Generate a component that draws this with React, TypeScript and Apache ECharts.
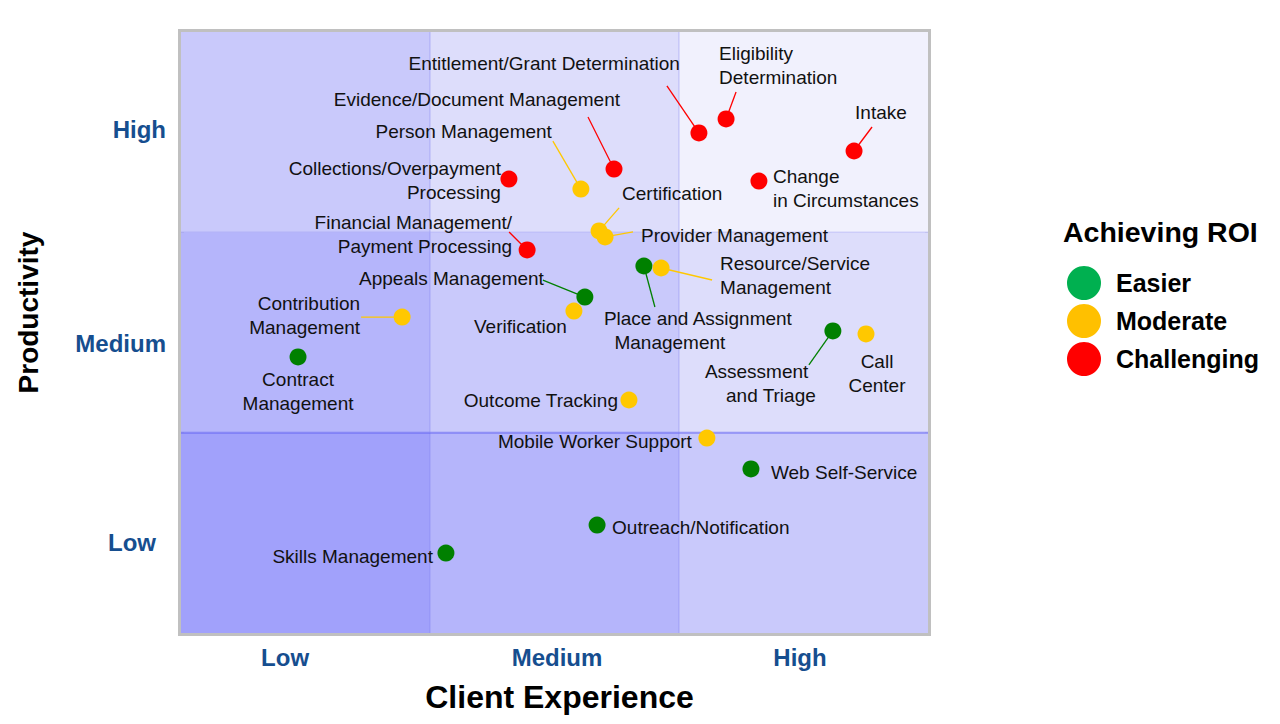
import React, { useEffect, useRef } from "react";
import * as echarts from "echarts";

// ---------- data ----------
const xTickLabels = ["Low", "Medium", "High"];
const yTickLabels = ["Low", "Medium", "High"];
const xTickPositions = [0.418, 1.51, 2.486];
const yTickPositions = [0.454, 1.443, 2.511];
const roiLevels = ["Easier", "Moderate", "Challenging"];

const challengingNames = [
  "Entitlement/Grant Determination",
  "Eligibility\nDetermination",
  "Intake",
  "Evidence/Document Management",
  "Change\nin Circumstances",
  "Collections/Overpayment\nProcessing",
  "Financial Management/\nPayment Processing",
];
const challengingX = [2.08, 2.189, 2.703, 1.739, 2.321, 1.317, 1.39];
const challengingY = [2.496, 2.566, 2.406, 2.316, 2.256, 2.266, 1.912];

const moderateNames = [
  "Person Management",
  "Certification",
  "Provider Management",
  "Resource/Service\nManagement",
  "Contribution\nManagement",
  "Verification",
  "Call\nCenter",
  "Outcome Tracking",
  "Mobile Worker Support",
];
const moderateX = [1.606, 1.679, 1.703, 1.928, 0.888, 1.578, 2.751, 1.799, 2.112];
const moderateY = [2.216, 2.007, 1.977, 1.822, 1.577, 1.607, 1.493, 1.163, 0.973];

const easierNames = [
  "Place and Assignment\n  Management",
  "Appeals Management",
  "Assessment\n    and Triage",
  "Contract\nManagement",
  "Web Self-Service",
  "Outreach/Notification",
  "Skills Management",
];
const easierX = [1.859, 1.622, 2.618, 0.47, 2.289, 1.671, 1.064];
const easierY = [1.832, 1.677, 1.508, 1.378, 0.819, 0.539, 0.399];

// background cells: [column, row]
const cellCols = [0, 1, 2, 0, 1, 2, 0, 1, 2];
const cellRows = [0, 0, 0, 1, 1, 1, 2, 2, 2];

// ---------- layout / style ----------
const FONT = "'Liberation Sans', Arial, Helvetica, sans-serif";
const cellColors = [
  ["#a1a1fb", "#b5b5fb", "#c9c9fb"],
  ["#b5b5fb", "#c9c9fb", "#ddddfb"],
  ["#c9c9fb", "#ddddfb", "#f1f1fd"],
];
const dotColors = { Easier: "#008000", Moderate: "#ffc800", Challenging: "#ff0000" };
const legendColors = { Easier: "#00b050", Moderate: "#ffc000", Challenging: "#ff0000" };
const yTickRightPad = [10, 0, 0];

type Lay = { dx: number; dy: number; align: string; line?: [number, number] };
const labelLayouts: Record<string, Lay> = {
  "Entitlement/Grant Determination": { dx: -19, dy: -69, align: "right", line: [-32, -47] },
  "Eligibility\nDetermination": { dx: -7, dy: -53, align: "left", line: [10, -27] },
  Intake: { dx: 1, dy: -38, align: "left", line: [18, -24] },
  "Evidence/Document Management": { dx: 6, dy: -70, align: "right", line: [-26, -52] },
  "Change\nin Circumstances": { dx: 14, dy: 7, align: "left" },
  "Collections/Overpayment\nProcessing": { dx: -8, dy: 1, align: "right" },
  "Financial Management/\nPayment Processing": { dx: -15, dy: -15, align: "right", line: [-18, -18] },
  "Person Management": { dx: -29, dy: -58, align: "right", line: [-28, -48] },
  Certification: { dx: 23, dy: -37, align: "left", line: [20, -23] },
  "Provider Management": { dx: 36, dy: -1, align: "left", line: [28, -5] },
  "Resource/Service\nManagement": { dx: 59, dy: 8, align: "left", line: [51, 12] },
  "Contribution\nManagement": { dx: -42, dy: -2, align: "right", line: [-41, 0] },
  Verification: { dx: -7, dy: 15, align: "right" },
  "Call\nCenter": { dx: 11, dy: 40, align: "center" },
  "Outcome Tracking": { dx: -11, dy: 0, align: "right" },
  "Mobile Worker Support": { dx: -15, dy: 3, align: "right" },
  "Place and Assignment\n  Management": { dx: -40, dy: 65, align: "left", line: [11, 41] },
  "Appeals Management": { dx: -41, dy: -19, align: "right", line: [-42, -17] },
  "Assessment\n    and Triage": { dx: -128, dy: 53, align: "left", line: [-24, 34] },
  "Contract\nManagement": { dx: 0, dy: 35, align: "center" },
  "Web Self-Service": { dx: 20, dy: 4, align: "left" },
  "Outreach/Notification": { dx: 15, dy: 2, align: "left" },
  "Skills Management": { dx: -13, dy: 3, align: "right" },
};

function buildPoints(names: string[], xs: number[], ys: number[]) {
  return names.map((n, i) => {
    const l = labelLayouts[n];
    return {
      name: n,
      value: [xs[i], ys[i]],
      label: { offset: [l.dx, l.dy], align: l.align },
    };
  });
}

export default function App() {
  const ref = useRef<HTMLDivElement>(null);
  useEffect(() => {
    if (!ref.current) return;
    const chart = echarts.init(ref.current, null, { renderer: "svg" });

    const groups = [
      { level: "Easier", names: easierNames, xs: easierX, ys: easierY },
      { level: "Moderate", names: moderateNames, xs: moderateX, ys: moderateY },
      { level: "Challenging", names: challengingNames, xs: challengingX, ys: challengingY },
    ];

    const leaderData: any[] = [];
    const leaderInfo: { end: [number, number]; color: string }[] = [];
    groups.forEach((g) => {
      g.names.forEach((n, i) => {
        const l = labelLayouts[n];
        if (l.line) {
          leaderData.push([g.xs[i], g.ys[i]]);
          leaderInfo.push({ end: l.line, color: (dotColors as any)[g.level] });
        }
      });
    });

    const findIdx = (positions: number[], v: number) =>
      positions.findIndex((p) => Math.abs(p - v) < 1e-6);

    const tickStyle = {
      color: "#164e8f",
      fontSize: 24,
      fontWeight: "bold",
      fontFamily: FONT,
    };

    const option: any = {
      animation: false,
      backgroundColor: "#ffffff",
      textStyle: { fontFamily: FONT },
      title: {
        text: "Achieving ROI",
        left: 1058,
        top: 212,
        textStyle: { fontSize: 28.5, fontWeight: "bold", color: "#000", fontFamily: FONT },
      },
      legend: {
        orient: "vertical",
        left: 1062,
        top: 261,
        itemWidth: 34,
        itemHeight: 34,
        itemGap: 4,
        icon: "circle",
        selectedMode: false,
        data: roiLevels.map((r) => ({ name: r, itemStyle: { color: (legendColors as any)[r] } })),
        textStyle: { fontSize: 25, fontWeight: "bold", color: "#000", fontFamily: FONT, padding: [0, 0, 0, 10] },
      },
      grid: {
        left: 181,
        right: 352,
        top: 32,
        bottom: 91,
        show: true,
        borderColor: "#c0c0c0",
        borderWidth: 6,
        backgroundColor: "transparent",
      },
      xAxis: {
        type: "value",
        min: 0,
        max: 3,
        interval: 1,
        axisLine: { show: false },
        axisTick: { show: false },
        splitLine: { show: false },
        axisLabel: {
          customValues: xTickPositions,
          formatter: (v: number) => {
            const i = findIdx(xTickPositions, v);
            return i >= 0 ? xTickLabels[i] : "";
          },
          ...tickStyle,
          margin: 12,
        },
        name: "Client Experience",
        nameLocation: "middle",
        nameGap: 48,
        nameTextStyle: {
          fontSize: 32,
          fontWeight: "bold",
          color: "#000",
          fontFamily: FONT,
          padding: [0, 0, 0, 10],
        },
      },
      yAxis: {
        type: "value",
        min: 0,
        max: 3,
        interval: 1,
        axisLine: { show: false },
        axisTick: { show: false },
        splitLine: { show: false },
        axisLabel: {
          customValues: yTickPositions,
          formatter: (v: number) => {
            const i = findIdx(yTickPositions, v);
            if (i < 0) return "";
            return "{t" + i + "|" + yTickLabels[i] + "}";
          },
          ...tickStyle,
          margin: 15,
          rich: {
            t0: { ...tickStyle, padding: [0, yTickRightPad[0], 0, 0] },
            t1: { ...tickStyle, padding: [0, yTickRightPad[1], 0, 0] },
            t2: { ...tickStyle, padding: [0, yTickRightPad[2], 0, 0] },
          },
        },
        name: "Productivity",
        nameLocation: "middle",
        nameGap: 139,
        nameRotate: 90,
        nameTextStyle: {
          fontSize: 28,
          fontWeight: "bold",
          color: "#000",
          fontFamily: FONT,
          padding: [0, 0, 0, 40],
        },
      },
      series: [
        {
          type: "custom",
          name: "cells",
          coordinateSystem: "cartesian2d",
          silent: true,
          z: 1,
          data: cellCols.map((c, i) => [c, cellRows[i]]),
          renderItem: (params: any, api: any) => {
            const c = api.value(0);
            const r = api.value(1);
            const p0 = api.coord([c, r + 1]);
            const p1 = api.coord([c, r]);
            const p2 = api.coord([c + 1, r]);
            const children: any[] = [
              {
                type: "rect",
                shape: { x: p0[0], y: p0[1], width: p2[0] - p0[0], height: p1[1] - p0[1] },
                style: { fill: cellColors[r][c] },
              },
            ];
            if (r === 1) {
              children.push({
                type: "line",
                shape: { x1: p1[0], y1: p1[1], x2: p2[0], y2: p2[1] },
                style: { stroke: "rgba(90,90,240,0.55)", lineWidth: 2 },
              });
            }
            if (r === 2) {
              children.push({
                type: "line",
                shape: { x1: p1[0], y1: p1[1], x2: p2[0], y2: p2[1] },
                style: { stroke: "rgba(120,120,240,0.25)", lineWidth: 1.5 },
              });
            }
            if (c > 0) {
              children.push({
                type: "line",
                shape: { x1: p0[0], y1: p0[1], x2: p1[0], y2: p1[1] },
                style: { stroke: "rgba(120,120,240,0.2)", lineWidth: 2 },
              });
            }
            return { type: "group", children };
          },
        },
        {
          type: "custom",
          name: "leaders",
          coordinateSystem: "cartesian2d",
          silent: true,
          z: 2,
          data: leaderData,
          renderItem: (params: any, api: any) => {
            const p = api.coord([api.value(0), api.value(1)]);
            const info = leaderInfo[params.dataIndex];
            return {
              type: "line",
              shape: { x1: p[0], y1: p[1], x2: p[0] + info.end[0], y2: p[1] + info.end[1] },
              style: { stroke: info.color, lineWidth: 1.3 },
            };
          },
        },
        ...groups.map((g) => ({
          type: "scatter",
          name: g.level,
          z: 3,
          symbol: "circle",
          symbolSize: 17,
          itemStyle: { color: (dotColors as any)[g.level], opacity: 1 },
          emphasis: { disabled: true },
          label: {
            show: true,
            position: "inside",
            formatter: "{b}",
            color: "#111",
            fontSize: 19,
            lineHeight: 24,
            fontFamily: FONT,
            verticalAlign: "middle",
          },
          data: buildPoints(g.names, g.xs, g.ys),
        })),
      ],
    };

    chart.setOption(option);
    return () => chart.dispose();
  }, []);

  return (
    <div
      ref={ref}
      style={{ position: "fixed", left: 0, top: 0, width: 1280, height: 724, background: "#fff" }}
    />
  );
}
